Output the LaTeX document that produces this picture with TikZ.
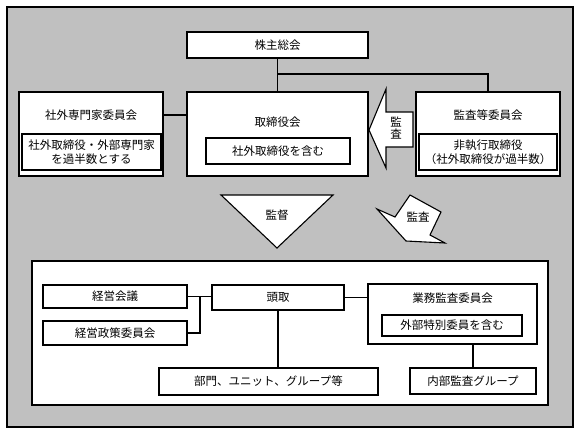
\documentclass[tikz,border=0pt]{standalone}
\usepackage{fontspec}
\setmainfont{Noto Sans CJK JP}
\begin{document}
\begin{tikzpicture}[x=1pt,y=-1pt,
  line width=1.1pt,
  every node/.style={font=\fontsize{11.5}{14}\selectfont, inner sep=0pt},
  box/.style={draw=black, fill=white, line width=1.1pt, rectangle},
  lbl/.style={align=center},
  conn/.style={draw=black, line width=1.1pt},
  bigarrow/.style={draw=black, fill=white, line width=1.1pt, line join=miter}
]
\useasboundingbox (0,0) rectangle (580,433);
\definecolor{bggray}{RGB}{192,192,192}
% outer gray panel
\draw[fill=bggray] (7,7) rectangle (573,427);

% helper coordinates
\coordinate (y74) at (0,74);
\coordinate (y115) at (0,115);
\coordinate (x200) at (200,0);

% connectors (upper)
\node[box, minimum width=181, minimum height=26] (kabu) at (277.5,45) {株主総会};
\node[box, minimum width=181, minimum height=84] (tori) at (277.5,134) {};
\node[box, minimum width=144, minimum height=84] (senmon) at (91,134) {};
\node[box, minimum width=144, minimum height=84] (kansa) at (488,134) {};

\draw[conn] (kabu.south) -- (tori.north);
\draw[conn] (tori.north |- y74) -| (kansa.north);
\draw[conn] (senmon.east |- y115) -- (tori.west |- y115);

% board contents
\node[lbl] (toriT) at (277.5,122) {取締役会};
\node[box, minimum width=144, minimum height=26] (toriI) at (278,151) {社外取締役を含む};
\node[lbl] (senmonT) at (91,115) {社外専門家委員会};
\node[box, lbl, minimum width=139, minimum height=36] (senmonI) at (91.5,152) {社外取締役・外部専門家\\を過半数とする};
\node[lbl] (kansaT) at (488,115) {監査等委員会};
\node[box, lbl, minimum width=138, minimum height=36] (kansaI) at (488,152) {非執行取締役\\（社外取締役が過半数）};

% left arrow 監査
\draw[bigarrow] (369,130) -- (386,89) -- (386,112) -- (413,112) -- (413,147) -- (386,147) -- (386,168) -- cycle;
\node[lbl] (arrowL) at (396,128) {監\\[-2pt]査};

% down triangle 監督
\draw[bigarrow] (221,195) -- (333,195) -- (277,248) -- cycle;
\node[lbl] (kantoku) at (277,215) {監督};

% diagonal arrow 監査
\draw[bigarrow] (410,195) -- (441,212) -- (430,235) -- (445,243) -- (406,241) -- (377,209) -- (395,217) -- cycle;
\node[lbl] (arrowD) at (418,217) {監査};

% inner white panel
\draw[fill=white] (32,261) rectangle (548,405);

\node[box, minimum width=144, minimum height=23] (kaigi) at (115,296.5) {経営会議};
\node[box, minimum width=144, minimum height=24] (seisaku) at (115,333) {経営政策委員会};
\node[box, minimum width=132, minimum height=25] (todori) at (278,297.5) {頭取};
\node[box, minimum width=219, minimum height=27] (bumon) at (268.5,381.5) {部門、ユニット、グループ等};
\node[box, minimum width=169, minimum height=60] (gyomu) at (452.5,314) {};
\node[lbl] (gyomuT) at (452.5,298) {業務監査委員会};
\node[box, minimum width=140, minimum height=21] (gyomuI) at (452,325.5) {外部特別委員を含む};
\node[box, minimum width=126, minimum height=26] (naibu) at (473,381) {内部監査グループ};

\draw[conn] (kaigi.east) -- (kaigi.east -| todori.west);
\draw[conn] (kaigi.east -| x200) |- (seisaku.east);
\draw[conn] (todori.south) -- (todori.south |- bumon.north);
\draw[conn] (todori.east) -- (todori.east -| gyomu.west);
\draw[conn] (naibu.north) -- (naibu.north |- gyomu.south);
\end{tikzpicture}
\end{document}
